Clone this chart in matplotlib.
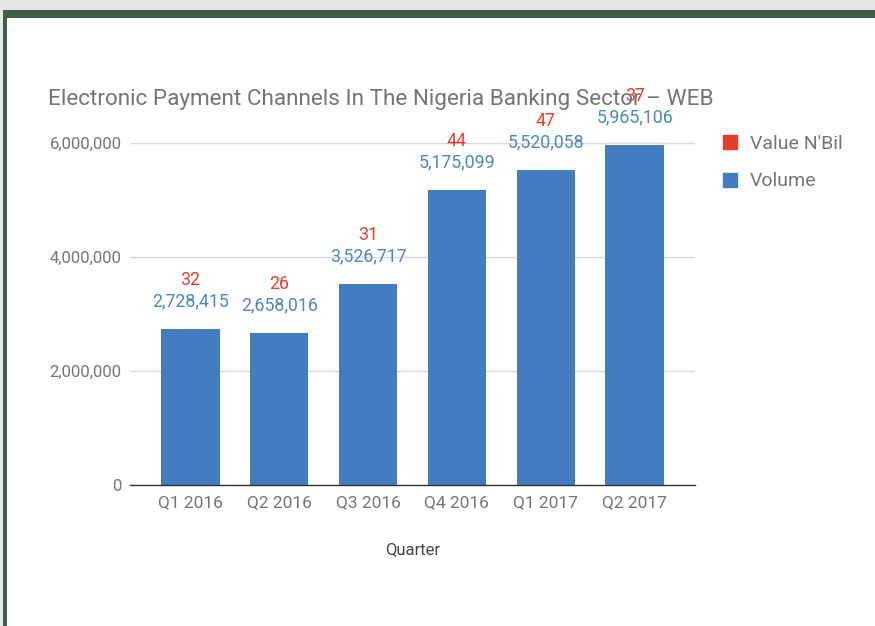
import matplotlib
matplotlib.use("Agg")
import matplotlib.pyplot as plt
from matplotlib.patches import Rectangle
from matplotlib.lines import Line2D

plt.rcParams['font.family'] = ['Roboto', 'DejaVu Sans']

quarters = ["Q1 2016", "Q2 2016", "Q3 2016", "Q4 2016", "Q1 2017", "Q2 2017"]
volume = [2728415, 2658016, 3526717, 5175099, 5520058, 5965106]
value_nbil = [32, 26, 31, 44, 47, 37]
yticks = [0, 2000000, 4000000, 6000000]

BLUE = "#437dc0"
BLUE_TXT = "#4a86c8"
RED = "#e53d2b"
GREY = "#757575"

W, H = 875, 626
fig = plt.figure(figsize=(W / 100, H / 100), dpi=100)
fig.patch.set_facecolor("white")

# page frame
fig.patches.append(Rectangle((0, (H - 10) / H), 1, 10 / H, transform=fig.transFigure,
                             facecolor="#e6e7e9", edgecolor="none", zorder=0))
fig.patches.append(Rectangle((0, 0), 3.3 / W, 1, transform=fig.transFigure,
                             facecolor="#e6e7e9", edgecolor="none", zorder=0))
fig.patches.append(Rectangle((3.3 / W, (H - 18) / H), 1, 8 / H, transform=fig.transFigure,
                             facecolor="#405c4a", edgecolor="none", zorder=1))
fig.patches.append(Rectangle((3.3 / W, 0), 4 / W, (H - 10) / H, transform=fig.transFigure,
                             facecolor="#405c4a", edgecolor="none", zorder=1))

left, right = 130, 695
bottom, top = 485, 143
ax = fig.add_axes([left / W, (H - bottom) / H, (right - left) / W, (bottom - top) / H])

x = list(range(len(quarters)))
ax.bar(x, volume, width=0.655, color=BLUE, zorder=3)
ax.bar(x, value_nbil, bottom=volume, width=0.655, color=RED, zorder=3)

for xi, v, r in zip(x, volume, value_nbil):
    ax.annotate(f"{v:,}", (xi, v), xytext=(0, 28), textcoords="offset pixels",
                ha="center", va="center", color=BLUE_TXT, fontsize=12.8, zorder=5)
    ax.annotate(f"{r}", (xi, v), xytext=(0, 49), textcoords="offset pixels",
                ha="center", va="center", color=RED, fontsize=12.8, zorder=5)

ax.set_xlim(-0.68, 5.68)
ax.set_ylim(0, 6000000)
ax.set_yticks(yticks)
ax.set_yticklabels([f"{t:,}" for t in yticks])
ax.set_xticks(x)
ax.set_xticklabels(quarters)
ax.tick_params(axis="both", length=0, colors=GREY, labelsize=12)
ax.tick_params(axis="x", labelsize=12.5)
ax.tick_params(axis="y", pad=6)
ax.tick_params(axis="x", pad=7.5)
ax.grid(axis="y", color="#d9d9d9", lw=1, zorder=0)
for s in ["top", "right", "left"]:
    ax.spines[s].set_visible(False)
ax.spines["bottom"].set_color("#333333")
ax.spines["bottom"].set_linewidth(1)
ax.spines["bottom"].set_zorder(4)
ax.set_xlabel("Quarter", color="#444444", fontsize=12, labelpad=23)

fig.text(48 / W, (H - 100) / H, "Electronic Payment Channels In The Nigeria Banking Sector \u2013 WEB",
         color=GREY, fontsize=16.2, ha="left", va="center")

handles = [Line2D([], [], marker="s", ls="none", markersize=10.5, color=RED),
           Line2D([], [], marker="s", ls="none", markersize=10.5, color=BLUE)]
leg = fig.legend(handles, ["Value N'Bil", "Volume"], loc="upper left",
                 bbox_to_anchor=(720 / W, (H - 135) / H), frameon=False,
                 fontsize=14, labelcolor=GREY, handlelength=1.0, handletextpad=0.55,
                 labelspacing=1.0, borderaxespad=0, borderpad=0)

fig.savefig("out.png", dpi=100)
